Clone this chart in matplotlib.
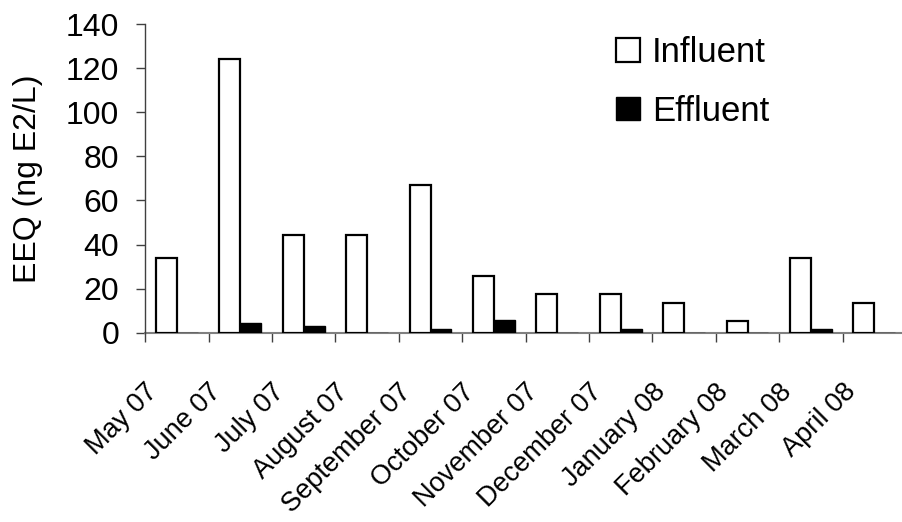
import matplotlib
matplotlib.use("Agg")
import matplotlib.pyplot as plt
from matplotlib.patches import Patch
import numpy as np

plt.rcParams['font.family'] = ['Liberation Sans', 'DejaVu Sans']

months = ["May 07", "June 07", "July 07", "August 07", "September 07", "October 07",
          "November 07", "December 07", "January 08", "February 08", "March 08", "April 08"]
influent = [34.0, 124.0, 44.3, 44.3, 67.0, 25.8, 17.7, 17.7, 13.6, 5.4, 34.0, 13.6]
effluent = [0.0, 4.5, 3.0, 0.0, 1.7, 5.8, 0.0, 1.7, 0.0, 0.0, 1.7, 0.0]
yticks = [0, 20, 40, 60, 80, 100, 120, 140]

W, H = 903, 522
fig = plt.figure(figsize=(W/100, H/100), dpi=100)
axw_px = 761.0
ax = fig.add_axes([145/W, 1-332.7/H, axw_px/W, (332.7-24)/H])

x = np.arange(len(months))
bw = 0.33
off = 0.17
ax.bar(x + off, influent, width=bw, align='edge', facecolor='white',
       edgecolor='black', linewidth=1.6, zorder=3)
ax.bar(x + off + bw, effluent, width=bw, align='edge', facecolor='black',
       edgecolor='black', linewidth=1.0, zorder=3)

ncat = len(months)
ax.set_xlim(0, ncat)
ax.set_ylim(0, 140)
ax.set_yticks(yticks)
ax.set_yticklabels([str(v) for v in yticks], fontsize=23)

# category boundaries as minor ticks; labels as major ticks (no tick mark)
ax.set_xticks(np.arange(ncat), minor=True)
cat_px = axw_px / ncat
ax.set_xticks(x + 0.5 - 32.0 / cat_px)
ax.set_xticklabels(months, fontsize=19.5, rotation=45, ha='right', va='top',
                   rotation_mode='anchor')
ax.tick_params(axis='x', which='major', length=0, pad=46 * 0.72)
ax.tick_params(axis='x', which='minor', length=9*0.72, width=1.0, color='#404040', direction='out')
ax.tick_params(axis='y', length=9*0.72, width=1.0, color='#404040', direction='out', pad=12)

for s in ['top', 'right']:
    ax.spines[s].set_visible(False)
ax.spines['left'].set_color('#404040')
ax.spines['bottom'].set_color('#808080')
ax.spines['left'].set_linewidth(1.0)
ax.spines['bottom'].set_linewidth(1.5)
ax.spines['bottom'].set_zorder(2)

ax.set_ylabel("EEQ (ng E2/L)", fontsize=23)
ax.yaxis.set_label_coords((43-145)/axw_px, 0.5)

handles = [Patch(facecolor='white', edgecolor='black', linewidth=1.6),
           Patch(facecolor='black', edgecolor='black')]
ax.legend(handles, ["Influent", "Effluent"], loc='upper left',
          bbox_to_anchor=(616/W, 1-36/H), bbox_transform=fig.transFigure,
          frameon=False, borderpad=0, borderaxespad=0, handlelength=0.68,
          handleheight=0.68, handletextpad=0.36, labelspacing=0.74, fontsize=25)

fig.savefig("out.png", dpi=100)
